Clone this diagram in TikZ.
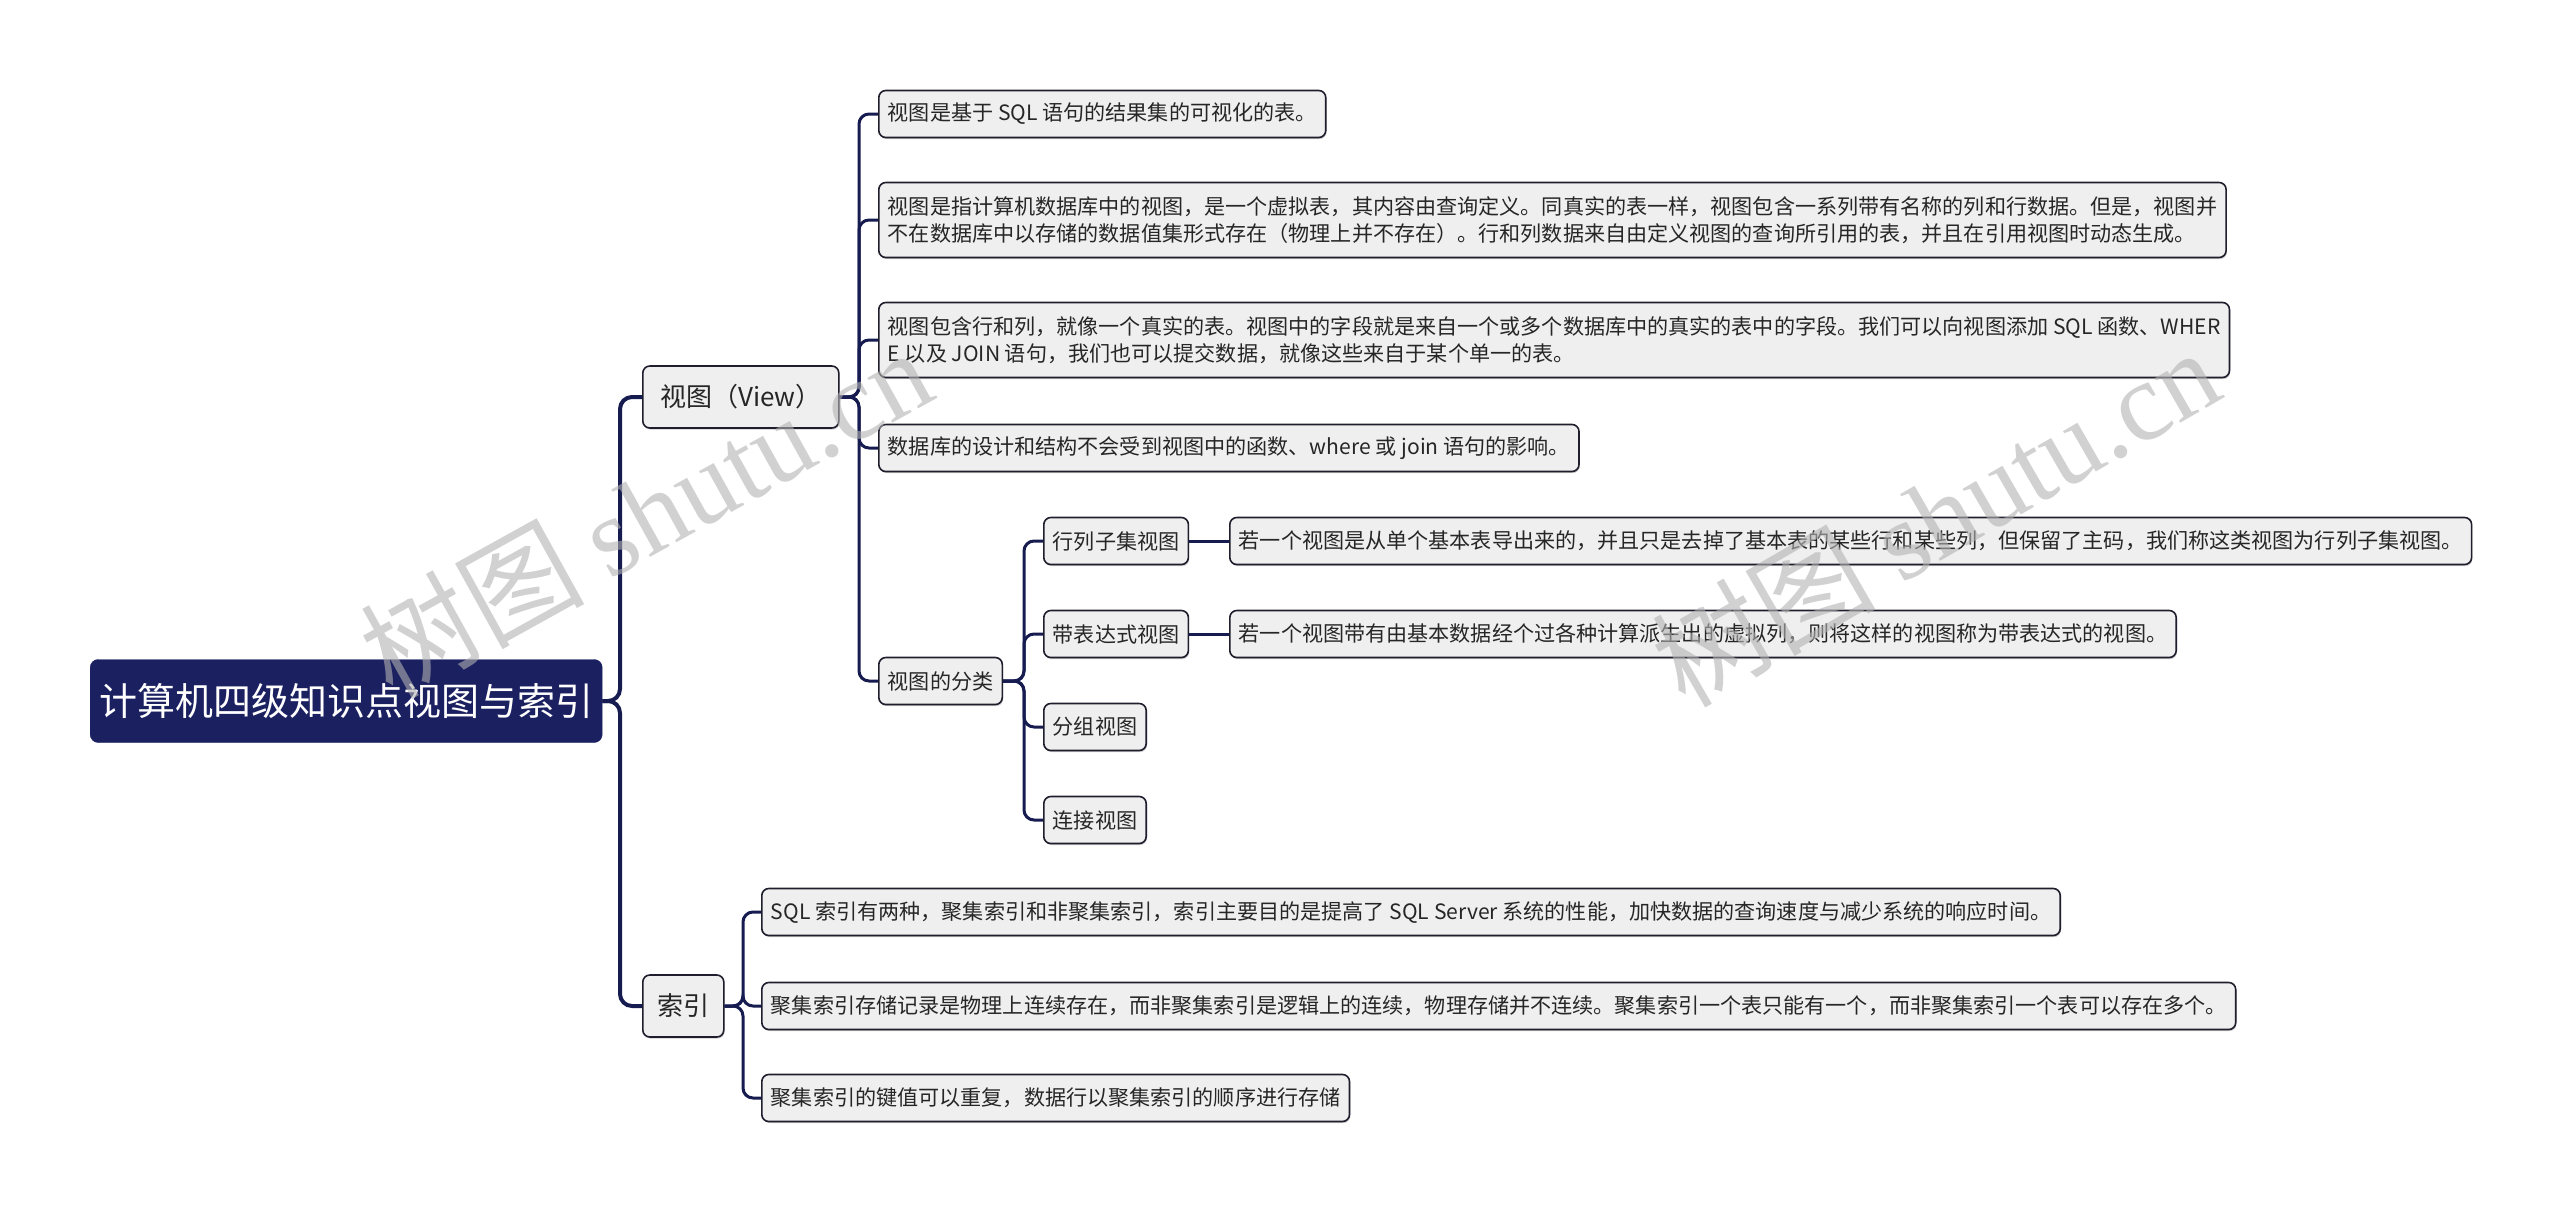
\documentclass[tikz,border=0pt]{standalone}
\usepackage{fontspec}
\setmainfont{Noto Sans CJK SC}
\newfontfamily\wmfont{Liberation Serif}
\usetikzlibrary{shadows}
\definecolor{navy}{RGB}{27,32,96}
\definecolor{linec}{RGB}{22,27,80}
\definecolor{boxfill}{RGB}{239,239,239}
\definecolor{boxdraw}{RGB}{30,30,45}
\begin{document}
\begin{tikzpicture}[x=1pt,y=-1pt,
  box/.style={draw=boxdraw, line width=1.6pt, fill=boxfill, rounded corners=7pt,
    anchor=west, inner xsep=9pt, inner ysep=0pt, align=left, text=black!85,
    font=\fontsize{21.1}{27.5}\selectfont, minimum height=47pt,
    drop shadow={shadow xshift=0.8pt, shadow yshift=-1.6pt, fill=black!40, opacity=0.5}},
  twoline/.style={minimum height=75pt},
  midbox/.style={font=\fontsize{26}{30}\selectfont, align=center, minimum height=62pt},
  rootbox/.style={draw=navy, fill=navy, rounded corners=8pt, text=white, anchor=west,
    font=\fontsize{38}{42}\selectfont, minimum width=512pt, minimum height=83pt, inner xsep=0pt},
  conn/.style={draw=linec, line width=3pt, rounded corners=10pt},
  trunk/.style={draw=linec, line width=4pt, rounded corners=12pt},
  wm/.style={text=black!30, opacity=0.6, font=\fontsize{112}{116}\selectfont},
]
\useasboundingbox (0,0) rectangle (2560,1213);

% nodes
\node[rootbox] (root) at (90,701) {计算机四级知识点视图与索引};
\node[box, midbox, minimum width=196pt] (view) at (642,397) {视图（View）};
\node[box, midbox, minimum width=81pt, inner xsep=4pt] (idx) at (642,1006) {索引};

\node[box] (a1) at (878,114) {视图是基于 SQL 语句的结果集的可视化的表。};
\node[box, twoline] (a2) at (878,220) {视图是指计算机数据库中的视图，是一个虚拟表，其内容由查询定义。同真实的表一样，视图包含一系列带有名称的列和行数据。但是，视图并\\不在数据库中以存储的数据值集形式存在（物理上并不存在）。行和列数据来自由定义视图的查询所引用的表，并且在引用视图时动态生成。};
\node[box, twoline] (a3) at (878,340) {视图包含行和列，就像一个真实的表。视图中的字段就是来自一个或多个数据库中的真实的表中的字段。我们可以向视图添加 SQL 函数、WHER\\E 以及 JOIN 语句，我们也可以提交数据，就像这些来自于某个单一的表。};
\node[box] (a4) at (878,448) {数据库的设计和结构不会受到视图中的函数、where 或 join 语句的影响。};
\node[box] (a5) at (878,681) {视图的分类};

\node[box] (c1) at (1043,541) {行列子集视图};
\node[box] (c2) at (1043,634) {带表达式视图};
\node[box] (c3) at (1043,727) {分组视图};
\node[box] (c4) at (1043,820) {连接视图};

\node[box] (d1) at (1229,541) {若一个视图是从单个基本表导出来的，并且只是去掉了基本表的某些行和某些列，但保留了主码，我们称这类视图为行列子集视图。};
\node[box] (d2) at (1229,634) {若一个视图带有由基本数据经个过各种计算派生出的虚拟列，则将这样的视图称为带表达式的视图。};

\node[box] (i1) at (761,912) {SQL 索引有两种，聚集索引和非聚集索引，索引主要目的是提高了 SQL Server 系统的性能，加快数据的查询速度与减少系统的响应时间。};
\node[box] (i2) at (761,1006) {聚集索引存储记录是物理上连续存在，而非聚集索引是逻辑上的连续，物理存储并不连续。聚集索引一个表只能有一个，而非聚集索引一个表可以存在多个。};
\node[box] (i3) at (761,1098) {聚集索引的键值可以重复，数据行以聚集索引的顺序进行存储};

% bend coordinates
\coordinate (b0) at (620,0);
\coordinate (b1) at (859,0);
\coordinate (b2) at (1024,0);
\coordinate (b3) at (743,0);

% connectors
\draw[trunk] (root.east) -- (root.east -| b0) |- (view.west);
\draw[trunk] (root.east) -- (root.east -| b0) |- (idx.west);
\foreach \c in {a1,a2,a3,a4,a5}
  \draw[conn] (view.east) -- (view.east -| b1) |- (\c.west);
\foreach \c in {c1,c2,c3,c4}
  \draw[conn] (a5.east) -- (a5.east -| b2) |- (\c.west);
\draw[conn] (c1.east) -- (d1.west);
\draw[conn] (c2.east) -- (d2.west);
\foreach \c in {i1,i2,i3}
  \draw[conn] (idx.east) -- (idx.east -| b3) |- (\c.west);

% watermark
\node[wm, rotate=29] (wm1) at (645,512) {树图 {\wmfont shutu.cn}};
\node[wm, rotate=30] (wm2) at (1935,516) {树图 {\wmfont shutu.cn}};
\end{tikzpicture}
\end{document}
